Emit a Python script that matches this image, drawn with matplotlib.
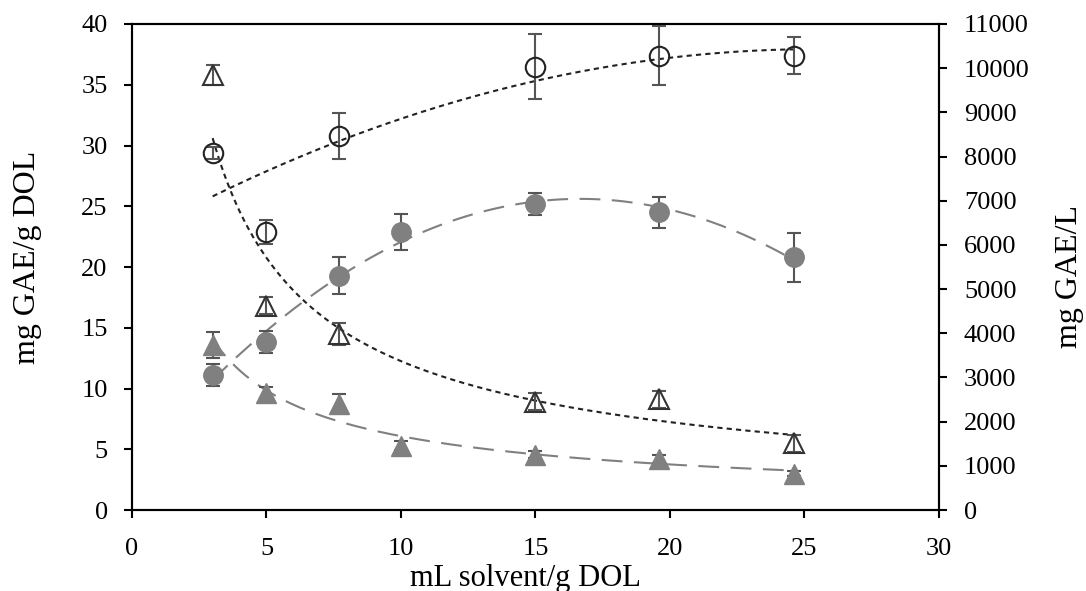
import numpy as np
import matplotlib
matplotlib.use("Agg")
import matplotlib.pyplot as plt

plt.rcParams['font.family'] = ['Liberation Serif', 'DejaVu Serif']

# Data
x_open_c = [3, 5, 7.7, 15, 19.6, 24.6]
y_open_c = [29.4, 22.9, 30.8, 36.5, 37.4, 37.4]
e_open_c = [0.5, 1.0, 1.9, 2.7, 2.45, 1.5]

x_open_t = [3, 5, 7.7, 15, 19.6, 24.6]
y_open_t = [35.8, 16.8, 14.5, 8.9, 9.1, 5.5]
e_open_t = [0.8, 0.7, 0.9, 0.7, 0.7, 0.7]

x_fill_c = [3, 5, 7.7, 10, 15, 19.6, 24.6]
y_fill_c = [11.1, 13.8, 19.3, 22.9, 25.2, 24.5, 20.8]
e_fill_c = [0.9, 0.9, 1.56, 1.5, 0.9, 1.26, 2.0]

x_fill_t = [3, 5, 7.7, 10, 15, 19.6, 24.6]
y_fill_t = [13.6, 9.6, 8.75, 5.3, 4.55, 4.2, 3.0]
e_fill_t = [1.08, 0.5, 0.77, 0.35, 0.3, 0.3, 0.2]

x_ticks = [0, 5, 10, 15, 20, 25, 30]
yl_ticks = [0, 5, 10, 15, 20, 25, 30, 35, 40]
yr_ticks = list(range(0, 11001, 1000))

fig = plt.figure(figsize=(10.86, 5.91), dpi=100)
ax = fig.add_axes([0.1215, 0.137, 0.7431, 0.8224])

dark = '#222222'
gray = '#808080'
ebar = '#555555'


def quad_fit(x, y):
    c = np.polyfit(x, y, 2)
    xs = np.linspace(min(x), max(x), 200)
    return xs, np.polyval(c, xs)


def power_fit(x, y):
    b, a = np.polyfit(np.log(x), np.log(y), 1)
    xs = np.linspace(min(x), max(x), 200)
    return xs, np.exp(a) * xs ** b

# trend lines
xs, ys = quad_fit(x_open_c, y_open_c)
ax.plot(xs, ys, color=dark, lw=1.5, ls=(0, (2.5, 2)), zorder=2)
xs, ys = power_fit(x_open_t, y_open_t)
ax.plot(xs, ys, color=dark, lw=1.5, ls=(0, (2.5, 2)), zorder=2)
xs, ys = quad_fit(x_fill_c, y_fill_c)
ax.plot(xs, ys, color=gray, lw=1.5, ls=(0, (10, 5.5)), zorder=2)
xs, ys = power_fit(x_fill_t, y_fill_t)
ax.plot(xs, ys, color=gray, lw=1.5, ls=(0, (10, 5.5)), zorder=2)

ms_c = 14
ms_t = 15
ax.errorbar(x_fill_c, y_fill_c, yerr=e_fill_c, fmt='o', ms=ms_c, mfc=gray, mec=gray,
            ecolor=ebar, elinewidth=1.5, capsize=5, capthick=1.5, zorder=3)
ax.errorbar(x_fill_t, y_fill_t, yerr=e_fill_t, fmt='^', ms=ms_t, mfc=gray, mec=gray,
            ecolor=ebar, elinewidth=1.5, capsize=5, capthick=1.5, zorder=3)
ax.errorbar(x_open_c, y_open_c, yerr=e_open_c, fmt='o', ms=ms_c, mfc='none', mec=dark, mew=1.5,
            ecolor=ebar, elinewidth=1.5, capsize=5, capthick=1.5, zorder=3)
ax.errorbar(x_open_t, y_open_t, yerr=e_open_t, fmt='^', ms=ms_t - 1, mfc='none', mec='#333333', mew=1.5,
            ecolor=ebar, elinewidth=1.5, capsize=5, capthick=1.5, zorder=3)

ax.set_xlim(0, 30)
ax.set_ylim(0, 40)
ax.set_xticks(x_ticks)
ax.set_yticks(yl_ticks)
ax.tick_params(direction='out', length=6, width=1.5, labelsize=19, colors='black')
ax.tick_params(axis='y', pad=11.5)
ax.tick_params(axis='x', pad=14)
for s in ax.spines.values():
    s.set_linewidth(1.5)
ax.set_xlabel('mL solvent/g DOL', fontsize=22)
ax.xaxis.label.set_verticalalignment('baseline')
ax.xaxis.set_label_coords(0.487, -0.1564)
ax.set_ylabel('mg GAE/g DOL', fontsize=23)
ax.yaxis.set_label_coords(-0.111, 0.52)

ax2 = ax.twinx()
ax2.set_ylim(0, 11000)
ax2.set_yticks(yr_ticks)
ax2.tick_params(direction='out', length=6, width=1.5, labelsize=19, pad=12)
for s in ax2.spines.values():
    s.set_linewidth(1.5)
ax2.set_ylabel('mg GAE/L', fontsize=23)
ax2.yaxis.set_label_coords(1.144, 0.48)

fig.savefig('out.png', dpi=100)
